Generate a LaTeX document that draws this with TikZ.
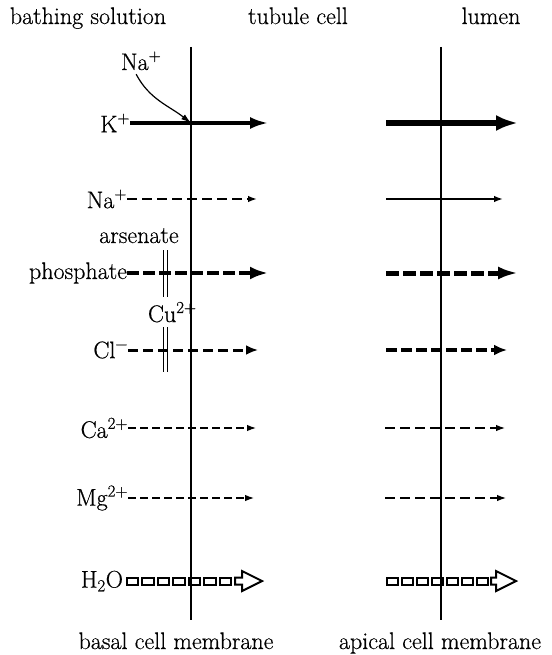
\documentclass[tikz,border=0pt]{standalone}
\usepackage{fontspec}
\setmainfont{Latin Modern Roman}[FakeBold=0.5]
\usetikzlibrary{arrows.meta,calc}
\tikzset{
  lab/.style={inner sep=0pt, outer sep=0pt, font=\fontsize{24}{28}\selectfont},
  memb/.style={line width=1.3pt},
  thinhead/.style={-{Latex[length=9pt,width=6.5pt]}},
  nabasal/.style={thinhead, line width=1.5pt, dash pattern=on 10pt off 5pt},
  naapical/.style={thinhead, line width=1.5pt},
  kbasal/.style={-{Latex[length=18pt,width=12pt]}, line width=3.2pt},
  kapical/.style={-{Latex[length=22pt,width=16pt]}, line width=6pt},
  phbasal/.style={-{Latex[length=18pt,width=13pt]}, line width=4.5pt, dash pattern=on 12pt off 4pt},
  phapical/.style={-{Latex[length=20pt,width=13pt]}, line width=5pt, dash pattern=on 13pt off 4pt},
  clbasal/.style={-{Latex[length=12pt,width=10pt]}, line width=3pt, dash pattern=on 10pt off 5pt},
  clapical/.style={-{Latex[length=13pt,width=11pt]}, line width=4pt, dash pattern=on 11pt off 4pt},
  thindash/.style={thinhead, line width=1.2pt, dash pattern=on 8pt off 4pt},
  curvearrow/.style={-{Latex[length=10pt,width=6pt]}, line width=1.2pt},
  block/.style={line width=2pt},
  bar/.style={line width=1.2pt}
}
\begin{document}
\begin{tikzpicture}[x=1pt,y=-1pt]
\useasboundingbox (0,0) rectangle (551,655);

% headers
\node[lab, anchor=base] (hbath) at (88,24) {bathing solution};
\node[lab, anchor=base] (htub) at (298,24) {tubule cell};
\node[lab, anchor=base] (hlum) at (491,24) {lumen};
\node[lab, anchor=base] (fbas) at (176,649) {basal cell membrane};
\node[lab, anchor=base] (fapi) at (440,649) {apical cell membrane};

% membranes
\coordinate (bt) at (191,47); \coordinate (bb) at (191,620);
\coordinate (at) at (441,47); \coordinate (ab) at (441,620);
\draw[memb] (bt) -- (bb);
\draw[memb] (at) -- (ab);

% K+ row
\node[lab, anchor=east] (k) at (130,123) {K\textsuperscript{+}};
\coordinate (kend) at (268,123);
\coordinate (bcross) at (191,123);
\draw[kbasal] (k.east) -- (kend);
\coordinate (ak0) at (386,123); \coordinate (ak1) at (518,123);
\draw[kapical] (ak0) -- (ak1);
\node[lab, anchor=base west] (na0) at (121,70) {Na\textsuperscript{+}};
\draw[curvearrow] ([xshift=-5pt,yshift=-4pt]na0.south) to[out=-62,in=142] (bcross);

% Na+ row
\node[lab, anchor=east] (na) at (127,199) {Na\textsuperscript{+}};
\coordinate (naend) at (257,199);
\draw[nabasal] (na.east) -- (naend);
\coordinate (ana0) at (386,199); \coordinate (ana1) at (503,199);
\draw[naapical] (ana0) -- (ana1);

% arsenate / phosphate
\node[lab, anchor=base] (ars) at (139,243) {arsenate};
\node[lab, anchor=east] (ph) at (127,273) {phosphate};
\coordinate (phend) at (268,273);
\draw[phbasal] (ph.east) -- (phend);
\coordinate (aph0) at (386,273); \coordinate (aph1) at (518,273);
\draw[phapical] (aph0) -- (aph1);
\coordinate (b1t) at (163.5,250); \coordinate (b1b) at (163.5,297);
\coordinate (b2t) at (167.5,250); \coordinate (b2b) at (167.5,297);
\draw[bar] (b1t) -- (b1b); \draw[bar] (b2t) -- (b2b);

% Cu2+ / Cl-
\node[lab, anchor=base west] (cu) at (148,322) {Cu\textsuperscript{2+}};
\node[lab, anchor=east] (cl) at (128,350) {Cl\textsuperscript{−}};
\coordinate (clend) at (258,350);
\draw[clbasal] (cl.east) -- (clend);
\coordinate (acl0) at (386,350); \coordinate (acl1) at (507,350);
\draw[clapical] (acl0) -- (acl1);
\coordinate (c1t) at (163.5,327); \coordinate (c1b) at (163.5,372);
\coordinate (c2t) at (167.5,327); \coordinate (c2b) at (167.5,372);
\draw[bar] (c1t) -- (c1b); \draw[bar] (c2t) -- (c2b);

% Ca2+
\node[lab, anchor=east] (ca) at (128,428) {Ca\textsuperscript{2+}};
\coordinate (caend) at (256,428);
\draw[thindash] (ca.east) -- (caend);
\coordinate (aca0) at (385,428); \coordinate (aca1) at (505,428);
\draw[thindash, dash pattern=on 10pt off 5pt] (aca0) -- (aca1);

% Mg2+
\node[lab, anchor=east] (mg) at (128,498) {Mg\textsuperscript{2+}};
\coordinate (mgend) at (254,498);
\draw[thindash] (mg.east) -- (mgend);
\coordinate (amg0) at (385,498); \coordinate (amg1) at (506,498);
\draw[thindash, dash pattern=on 10pt off 5pt] (amg0) -- (amg1);

% H2O
\node[lab, anchor=east] (h) at (123,581) {H\textsubscript{2}O};
\foreach \i in {0,...,6} {
  \draw[block] ($(h.east)+(3.5+\i*15.5,-3.5)$) rectangle ++(11.5,7);
}
\coordinate (hh) at (235,581);
\draw[block] (hh) ++(0,-3.5) -- ++(7,0) -- ++(0,-6.5) -- ++(20,10) -- ++(-20,10) -- ++(0,-6.5) -- ++(-7,0) -- cycle;
\coordinate (ah) at (387,581);
\foreach \i in {0,...,6} {
  \draw[block] ($(ah)+(\i*15,-3.5)$) rectangle ++(11,7);
}
\coordinate (ahh) at (491,581);
\draw[block] (ahh) ++(0,-3.5) -- ++(5,0) -- ++(0,-6.5) -- ++(20,10) -- ++(-20,10) -- ++(0,-6.5) -- ++(-5,0) -- cycle;
\end{tikzpicture}
\end{document}
